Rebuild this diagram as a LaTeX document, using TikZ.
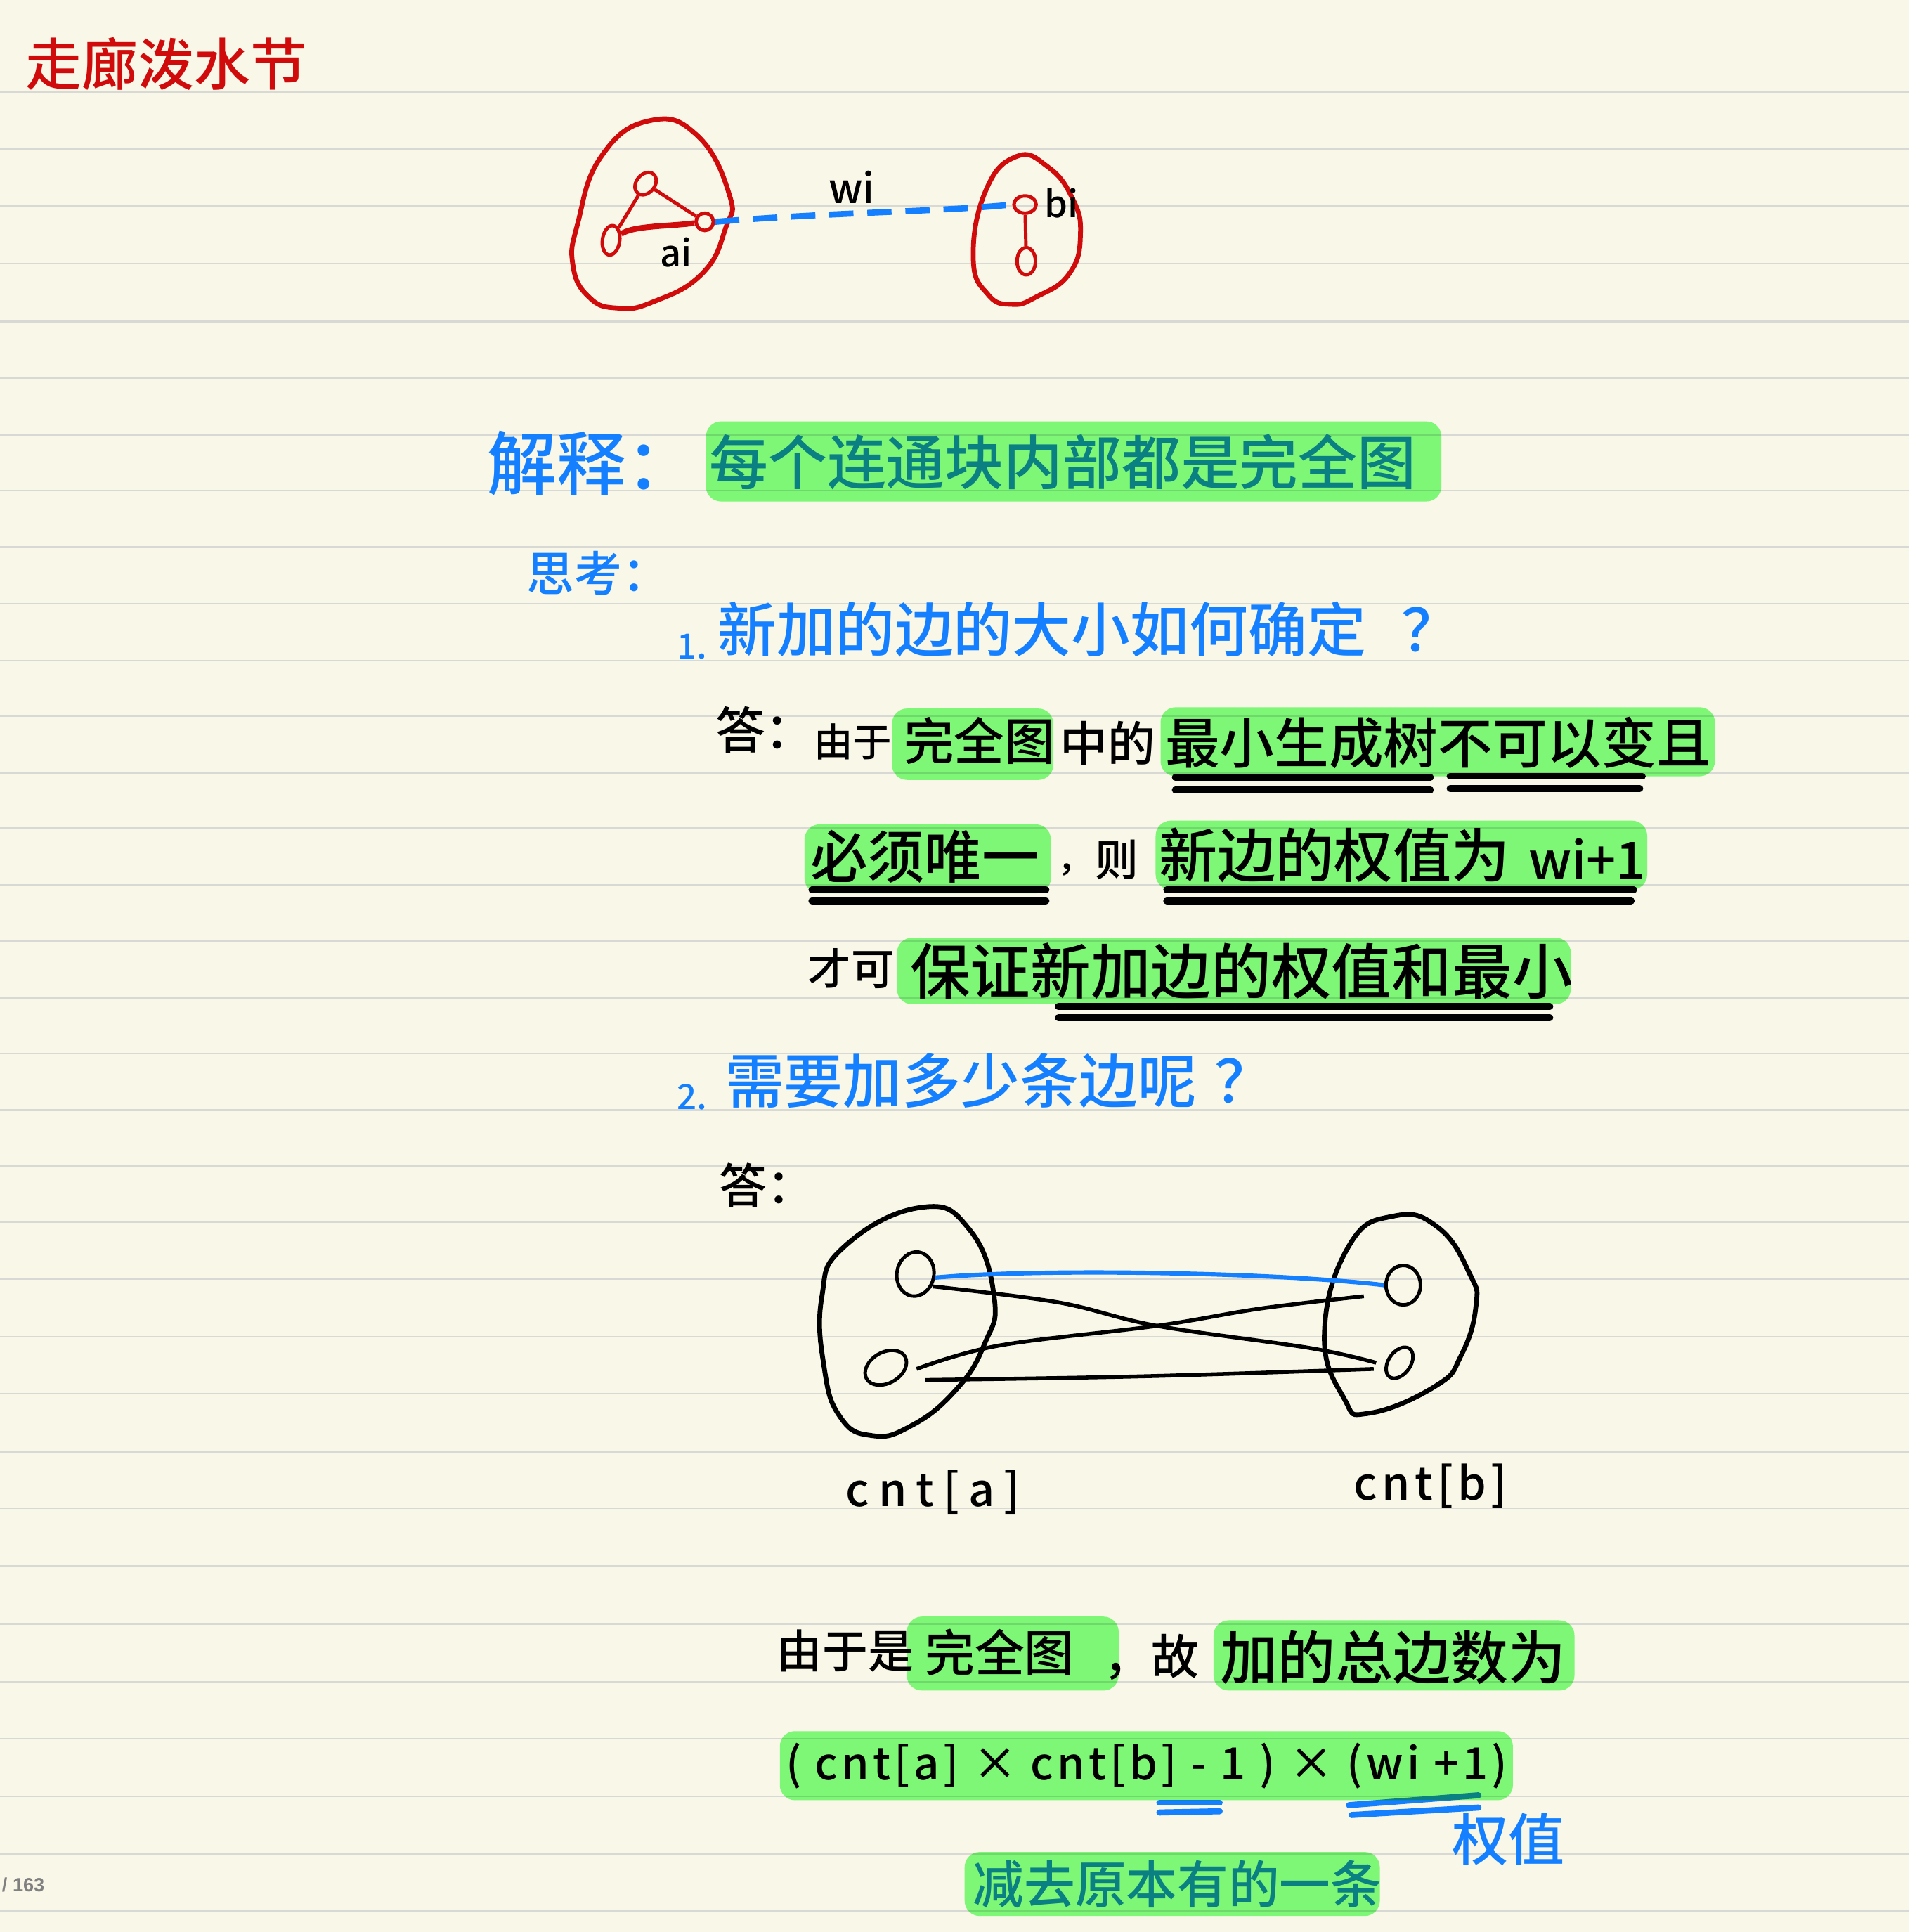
\documentclass[tikz,border=0pt]{standalone}
\usepackage{fontspec}
\setmainfont{Noto Sans CJK SC}[BoldFont={Noto Sans CJK SC Medium}]
\newfontfamily\pagefont{Liberation Sans}
\usetikzlibrary{shapes.geometric}
\definecolor{paper}{HTML}{F9F7E8}
\definecolor{rule}{HTML}{D8D8D4}
\definecolor{inkred}{HTML}{D00B0B}
\definecolor{inkblue}{HTML}{1480FF}
\definecolor{marker}{HTML}{83FF82}
\tikzset{
  hw/.style={font=\bfseries\fontsize{#1}{#1}\selectfont, inner sep=0pt, anchor=west},
  hl/.style={fill=marker, blend mode=multiply, rounded corners=3.5pt},
  uline/.style={line width=1.6pt, line cap=round},
  redvtx/.style={draw=inkred, ellipse, line width=0.8pt, inner sep=0pt},
  blackvtx/.style={draw=black, ellipse, line width=0.8pt, inner sep=0pt}
}

\begin{document}
\begin{tikzpicture}[x=0.01cm, y=-0.01cm]
  \useasboundingbox[fill=paper] (0,0) rectangle (1550,1568);
  % notebook rules
  \foreach \ruley in {75,121,167,214,261,307,353,398,444,490,536,581,627,672,718,764,810,855,901,946,992,1038,1085,1131,1178,1224,1271,1318,1365,1411,1458,1505,1551}{
    \draw[rule, line width=0.4pt] (0,\ruley) -- (1550,\ruley);
  }
  \node[hw=13, text=inkred] (title) at (20,52) {走廊泼水节};
  \node[font=\pagefont\bfseries\fontsize{4.4}{5}\selectfont, text=gray, inner sep=0pt, anchor=west] (pageno) at (1,1530) {/ 163};

  % first sketch, two red blobs
  \draw[inkred, line width=1.1pt] plot[smooth cycle, tension=0.8] coordinates {(527,98) (566,110) (592,158) (589,185) (570,222) (530,245) (501,250) (478,241) (465,215) (469,181) (488,127)};
  \draw[inkred, line width=1.1pt] plot[smooth cycle, tension=0.8] coordinates {(825,127) (850,135) (870,160) (877,190) (868,222) (841,241) (821,247) (802,239) (790,210) (800,155)};
  \node[redvtx, minimum width=0.2cm, minimum height=0.15cm, rotate=50] (topa) at (524,149) {};
  \node[redvtx, minimum width=0.14cm, minimum height=0.24cm, rotate=-8] (lefta) at (496,195) {};
  \node[redvtx, minimum width=0.14cm, minimum height=0.14cm] (ra) at (572,180) {};
  \node[redvtx, minimum width=0.18cm, minimum height=0.14cm] (rb) at (832,166) {};
  \node[redvtx, minimum width=0.15cm, minimum height=0.22cm] (lowb) at (833,212) {};
  \draw[inkred, line width=0.8pt] (topa) -- (lefta);
  \draw[inkred, line width=0.8pt] (topa) -- (ra);
  \draw[inkred, line width=1.3pt] (lefta) .. controls (515,183) and (540,184) .. (ra);
  \draw[inkred, line width=0.8pt] (rb) -- (lowb);
  \draw[inkblue, line width=1.4pt, dash pattern=on 5.6pt off 3.2pt] (ra.east) .. controls (680,172) and (760,172) .. (rb.west);
  \node[hw=9.5] (wi) at (672,152) {wi};
  \node[hw=8.5] (ai) at (535,205) {ai};
  \node[hw=8.5] (bi) at (847,165) {bi};

  % explanation
  \node[hw=16, text=inkblue] (jieshi) at (395,376) {解释：};
  \node[hw=13.6, text=inkblue] (shuoming) at (575,375) {每个连通块内部都是完全图};
  \node[hw=11, text=inkblue] (sikao) at (427,465) {思考：};
  \node[hw=8, text=inkblue] (numone) at (549,525) {1.};
  \node[hw=13.6, text=inkblue] (qone) at (582,511) {新加的边的大小如何确定\hspace{0.6em}？};

  % first answer
  \node[hw=11.5] (ansone) at (580,592) {答：};
  \node[hw=9] (youyu) at (660,602) {由于};
  \node[hw=11.6] (wq) at (733,601) {完全图};
  \node[hw=11] (zd) at (860,603) {中的};
  \node[hw=12.6] (zx) at (945,603) {最小生成树不可以变且};
  \node[hw=13.2] (bx) at (657,695) {必须唯一};
  \node[hw=8] (dou) at (858,706) {，};
  \node[hw=10] (ze) at (888,698) {则};
  \node[hw=13.5] (xb) at (940,694) {新边的权值为};
  \node[hw=12] (wione) at (1240,697) {wi+1};
  \node[hw=10] (ck) at (655,786) {才可};
  \node[hw=13.9] (bz) at (738,788) {保证新加边的权值和最小};
  \foreach \ulx/\ulxe/\uly in {954/1161/631, 954/1161/641, 1177/1333/630, 1177/1331/640, 659/849/722, 659/849/731, 947/1326/722, 947/1324/731, 859/1258/817, 859/1258/826}{
    \draw[uline] (\ulx,\uly) -- (\ulxe,\uly);
  }

  % second question
  \node[hw=8, text=inkblue] (numtwo) at (549,890) {2.};
  \node[hw=13.6, text=inkblue] (qtwo) at (588,877) {需要加多少条边呢\hspace{0.3em}？};
  \node[hw=11] (anstwo) at (583,962) {答：};

  % bipartite sketch
  \draw[line width=1.1pt] plot[smooth cycle, tension=0.8] coordinates {(747,980) (787,998) (807,1053) (799,1091) (775,1129) (738,1158) (707,1165) (682,1150) (669,1110) (667,1053) (685,1012)};
  \draw[line width=1.1pt] plot[smooth cycle, tension=0.8] coordinates {(1131,987) (1167,996) (1193,1034) (1198,1060) (1186,1100) (1165,1125) (1111,1147) (1091,1135) (1075,1082) (1095,1011)};
  \node[blackvtx, minimum width=0.3cm, minimum height=0.36cm, rotate=-10] (aone) at (743,1034) {};
  \node[blackvtx, minimum width=0.36cm, minimum height=0.25cm, rotate=30] (atwo) at (719,1110) {};
  \node[blackvtx, minimum width=0.28cm, minimum height=0.32cm] (bone) at (1139,1043) {};
  \node[blackvtx, minimum width=0.28cm, minimum height=0.18cm, rotate=55] (btwo) at (1136,1106) {};
  \coordinate (aoneout) at (757,1044);
  \coordinate (atwoup) at (744,1111);
  \coordinate (atwolow) at (751,1120);
  \coordinate (boneout) at (1107,1052);
  \coordinate (btwoup) at (1117,1106);
  \coordinate (btwolow) at (1115,1111);
  \draw[inkblue, line width=1pt] (aone.east) .. controls (850,1029) and (1040,1033) .. (bone.west);
  \draw[line width=0.9pt] plot[smooth, tension=0.6] coordinates {(aoneout) (859,1057) (939,1076) (1063,1094) (btwoup)};
  \draw[line width=0.9pt] plot[smooth, tension=0.6] coordinates {(atwoup) (811,1092) (939,1076) (1023,1062) (boneout)};
  \draw[line width=0.9pt] plot[smooth, tension=0.6] coordinates {(atwolow) (927,1117) (btwolow)};
  \node[hw=10.5] (cnta) at (686,1211) {\addfontfeature{LetterSpace=20}cnt[a]};
  \node[hw=10.5] (cntb) at (1098,1206) {\addfontfeature{LetterSpace=10}cnt[b]};

  % edge count
  \node[hw=10.5] (shi) at (630,1340) {由于是};
  \node[hw=11.5] (wqt) at (750,1341) {完全图};
  \node[hw=11] (gu) at (895,1345) {，故};
  \node[hw=13.3] (jia) at (990,1345) {加的总边数为};
  \node[hw=10.3] (formula) at (637,1433) {\addfontfeature{LetterSpace=8}( cnt[a] × cnt[b] - 1 ) × (wi +1)};
  \foreach \blx/\blxe/\bly/\blye in {941/990/1463/1463, 941/990/1471/1470, 1095/1200/1465/1457, 1097/1200/1473/1467}{
    \draw[inkblue, line width=1.4pt, line cap=round] (\blx,\bly) -- (\blxe,\blye);
  }
  \node[hw=13, text=inkblue] (quanzhi) at (1178,1493) {权值};
  \node[hw=11.8, text=inkblue] (jian) at (789,1529) {减去原本有的一条};

  % marker on top of the ink
  \fill[hl] (573,342) rectangle (1170,407);
  \fill[hl] (724,575) rectangle (855,633);
  \fill[hl] (942,574) rectangle (1392,630);
  \fill[hl] (653,669) rectangle (853,725);
  \fill[hl] (938,666) rectangle (1337,722);
  \fill[hl] (728,761) rectangle (1275,815);
  \fill[hl] (736,1312) rectangle (908,1372);
  \fill[hl] (985,1315) rectangle (1278,1372);
  \fill[hl] (633,1405) rectangle (1228,1461);
  \fill[hl] (783,1503) rectangle (1120,1555);
\end{tikzpicture}
\end{document}
